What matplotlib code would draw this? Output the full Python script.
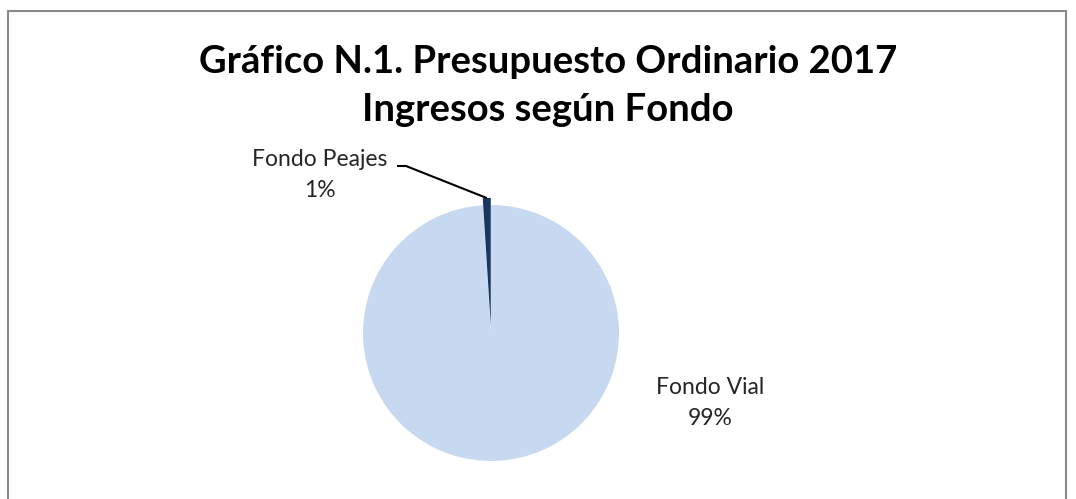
import matplotlib
matplotlib.use("Agg")
import matplotlib.pyplot as plt
import numpy as np
from matplotlib.patches import Rectangle

categories = ["Fondo Vial", "Fondo Peajes"]
shares = [99, 1]
pct_labels = ["99%", "1%"]
colors = ["#C6D9F1", "#17375E"]
explode = [0.0, 0.055]

W, H = 1076, 499
fig = plt.figure(figsize=(W / 100, H / 100), dpi=100)
fig.patch.set_facecolor("white")

# border of the chart area
fig.add_artist(Rectangle((8 / W, -0.05), (1066 - 8) / W, (H - 11) / H + 0.05,
                         transform=fig.transFigure, fill=False,
                         edgecolor="#898989", linewidth=1.5))

cx, cy, r = 491, 333, 128
ax = fig.add_axes([(cx - r) / W, (H - cy - r) / H, 2 * r / W, 2 * r / H])
wedges, _ = ax.pie(shares, colors=colors, startangle=90, counterclock=False,
                   explode=explode, radius=1.0,
                   wedgeprops=dict(linewidth=0))
for w in wedges:
    w.set_clip_on(False)
ax.set_xlim(-1, 1)
ax.set_ylim(-1, 1)
ax.set_aspect("equal")
ax.axis("off")

font = "Lato"
fig.text(548 / W, 1 - 62 / H, "Gráfico N.1. Presupuesto Ordinario 2017",
         ha="center", va="center", fontsize=27.5, fontweight="bold", family=font)
fig.text(548 / W, 1 - 110 / H, "Ingresos según Fondo",
         ha="center", va="center", fontsize=27.5, fontweight="bold", family=font)

# Peajes label with leader line
wp = wedges[1]
ang = np.deg2rad((wp.theta1 + wp.theta2) / 2)
ox, oy = wp.center
tip = (ox + np.cos(ang) * 1.0, oy + np.sin(ang) * 1.0)
px = lambda x: (x - cx) / r
py = lambda y: (cy - y) / r
ax.plot([px(397), px(406), tip[0]], [py(166), py(166), tip[1]],
        color="black", lw=1.5, clip_on=False, solid_capstyle="butt")
ax.text(px(320), py(175), f"{categories[1]}\n{pct_labels[1]}",
        ha="center", va="center", fontsize=16.5, family=font,
        color="#262626", linespacing=1.55)
ax.text(px(710), py(403), f"{categories[0]}\n{pct_labels[0]}",
        ha="center", va="center", fontsize=16.5, family=font,
        color="#262626", linespacing=1.55)

fig.savefig("out.png", dpi=100, facecolor="white")
